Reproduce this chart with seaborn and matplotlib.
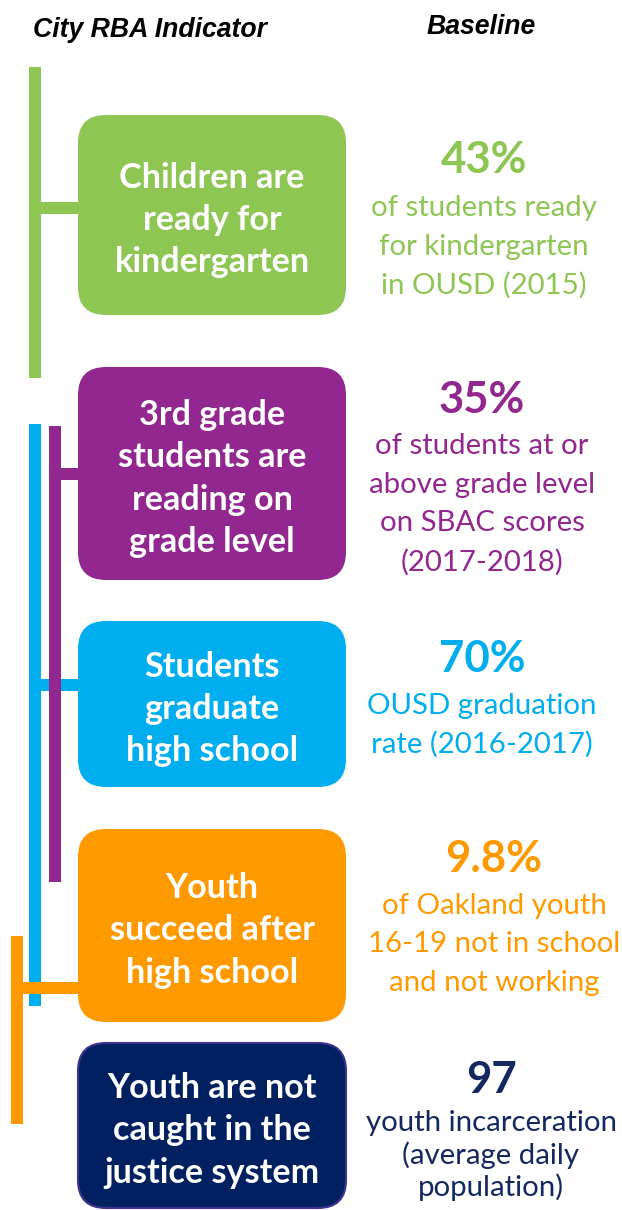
import matplotlib
matplotlib.use("Agg")
import matplotlib.pyplot as plt
from matplotlib.patches import FancyBboxPatch, Rectangle
import seaborn as sns

# ---------------- data ----------------
header_left = "City RBA Indicator"
header_right = "Baseline"
indicators = [
    ["Children are", "ready for", "kindergarten"],
    ["3rd grade", "students are", "reading on", "grade level"],
    ["Students", "graduate", "high school"],
    ["Youth", "succeed after", "high school"],
    ["Youth are not", "caught in the", "justice system"],
]
baseline_values = ["43%", "35%", "70%", "9.8%", "97"]
baseline_notes = [
    ["of students ready", "for kindergarten", "in OUSD (2015)"],
    ["of students at or", "above grade level", "on SBAC scores", "(2017-2018)"],
    ["OUSD graduation", "rate (2016-2017)"],
    ["of Oakland youth", "16-19 not in school", "and not working"],
    ["youth incarceration", "(average daily", "population)"],
]
box_colors = ["#8DC653", "#92278F", "#00AEEF", "#FF9900", "#002060"]
text_colors = ["#8DC653", "#92278F", "#00AEEF", "#FF9900", "#14285F"]

# ---------------- layout (pixels) ----------------
W, H = 622, 1210
box_left, box_right = 78, 346
box_top = [115, 367, 621, 829, 1043]
box_bot = [315, 580, 787, 1022, 1208]
box_text_offset = 5
box_line_gap = 42.3
value_y = [160, 400, 659, 859, 1080]
note_offset = [48, 46, 47, 47, 43]
note_gap = [38.5, 38.7, 38.5, 38.5, 32]
right_cx = [484, 482, 482, 494, 491]

# vertical bracket bars: (x_left, y_top, y_bottom, connector_y, color index)
bars = [(29, 67, 378, 208, 0), (29, 424, 1006, 685, 2), (49, 426, 882, 474, 1), (11, 936, 1124, 988, 3)]
bar_w = 12
conn_h = 12

sns.set_theme(style="white")
plt.rcParams["font.family"] = ["Lato", "DejaVu Sans"]

fig = plt.figure(figsize=(W / 100, H / 100), dpi=100)
ax = fig.add_axes([0, 0, 1, 1])
ax.set_xlim(0, W)
ax.set_ylim(H, 0)
ax.axis("off")

# headers
ax.text(150, 30, header_left, ha="center", va="center", fontsize=19.2,
        fontweight="bold", fontstyle="italic", family=["Liberation Sans", "DejaVu Sans"], color="black")
ax.text(481, 27, header_right, ha="center", va="center", fontsize=19.2,
        fontweight="bold", fontstyle="italic", family=["Liberation Sans", "DejaVu Sans"], color="black")

for (xl, yt, yb, cy, ci) in bars:
    c = box_colors[ci]
    ax.add_patch(Rectangle((xl, yt), bar_w, yb - yt, facecolor=c, edgecolor="none", zorder=2 + ci * 0.01))
    ax.add_patch(Rectangle((xl + bar_w, cy - conn_h / 2), box_left + 4 - (xl + bar_w), conn_h,
                           facecolor=c, edgecolor="none", zorder=1.5 if ci == 2 else 3))

for i in range(5):
    c = box_colors[i]
    ec = "#3F3391" if i == 4 else "none"
    ax.add_patch(FancyBboxPatch((box_left, box_top[i]), box_right - box_left, box_bot[i] - box_top[i],
                                boxstyle="round,pad=0,rounding_size=28", facecolor=c,
                                edgecolor=ec, linewidth=1.5, zorder=4))
    lines = indicators[i]
    cy = (box_top[i] + box_bot[i]) / 2 + box_text_offset
    n = len(lines)
    for k, ln in enumerate(lines):
        y = cy + (k - (n - 1) / 2) * box_line_gap
        ax.text((box_left + box_right) / 2, y, ln, ha="center", va="center", fontsize=24.6,
                fontweight="bold", color="white", zorder=5)
    tc = text_colors[i]
    ax.text(right_cx[i], value_y[i], baseline_values[i], ha="center", va="center", fontsize=31.5,
            fontweight="bold", color=tc, zorder=5)
    for k, ln in enumerate(baseline_notes[i]):
        y = value_y[i] + note_offset[i] + k * note_gap[i]
        ax.text(right_cx[i], y, ln, ha="center", va="center", fontsize=21.2, color=tc, zorder=5)

fig.savefig("out.png", dpi=100, facecolor="white")
